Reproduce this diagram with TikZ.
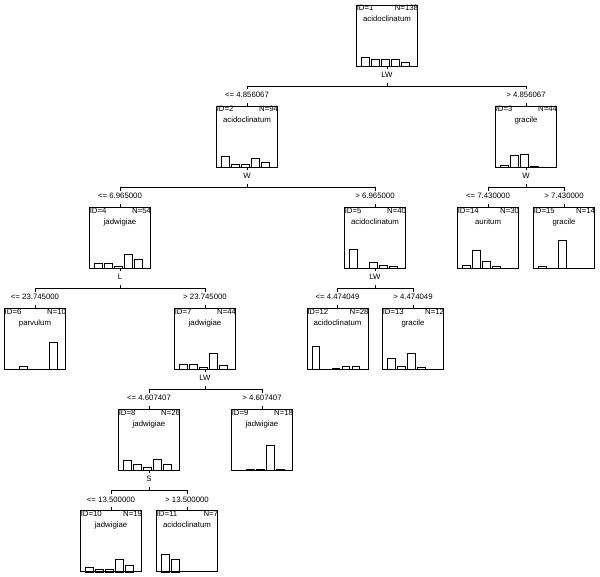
\documentclass[tikz,border=0pt]{standalone}
\usepackage{fontspec}
\setmainfont{Liberation Sans}
\usetikzlibrary{calc}
\tikzset{
  boxnode/.style={draw, line width=0.9pt, minimum width=61pt, minimum height=61pt, inner sep=0pt},
  lbl/.style={font=\fontsize{7.8}{8.5}\selectfont, inner sep=0pt},
  conn/.style={line width=0.8pt},
  histbar/.style={draw, line width=0.8pt},
}
\newcommand{\tnode}[7]{%
  \node[boxnode] (#1) at (#2, {5+101.1*#3+30.5}) {};
  \node[lbl, anchor=base west] (#1id) at ($(#1.north west)+(0.5,6.3)$) {ID=#4};
  \node[lbl, anchor=base east] (#1n) at ($(#1.north east)+(0.3,6.3)$) {N=#5};
  \node[lbl, anchor=base] (#1c) at ($(#1.north)+(0,17.3)$) {#6};
  \foreach \h [count=\i] in {#7} {
    \ifdim \h pt>0pt
      \draw[histbar] ($(#1.south west)+({5.5+10*(\i-1)},0)$) rectangle ++(7.5,-\h);
    \fi
  }
}
\newcommand{\tsplit}[6]{%
  \draw[conn] (#1.south) -- ++(0,2.5);
  \node[lbl, anchor=base] (#1var) at ($(#1.south)+(0,10.7)$) {#4};
  \coordinate (#1h) at ($(#1.south)+(0,19.5)$);
  \draw[conn] (#1h) -- ++(0,-3);
  \draw[conn] (#2.north |- #1h) -- (#3.north |- #1h);
  \draw[conn] (#2.north |- #1h) -- ++(0,3.5);
  \draw[conn] (#3.north |- #1h) -- ++(0,3.5);
  \node[lbl, anchor=base] (#2cond) at ($(#2.north)+(0,-8)$) {#5};
  \node[lbl, anchor=base] (#3cond) at ($(#3.north)+(0,-8)$) {#6};
  \draw[conn] (#2.north) -- ++(0,-3);
  \draw[conn] (#3.north) -- ++(0,-3);
}
\begin{document}
\begin{tikzpicture}[x=1pt,y=-1pt]
\useasboundingbox (0,0) rectangle (600,577);
\tnode{n1}{387}{0}{1}{138}{acidoclinatum}{9.3,6.7,6.7,6.7,4.3}
\tnode{n2}{247}{1}{2}{94}{acidoclinatum}{10.7,2.7,3.3,9,5}
\tnode{n3}{526}{1}{3}{44}{gracile}{2,11.7,12.7,1,0}
\tnode{n4}{120}{2}{4}{54}{jadwigiae}{5,5,2.7,14,9}
\tnode{n5}{375}{2}{5}{40}{acidoclinatum}{19.3,0.7,6,3.3,2.7}
\tnode{n14}{488}{2}{14}{30}{auritum}{3.3,18.3,7.3,2.3,0}
\tnode{n15}{564}{2}{15}{14}{gracile}{2.7,0,28.3,0,0}
\tnode{n6}{35}{3}{6}{10}{parvulum}{0,3.3,0,0,27.7}
\tnode{n7}{205}{3}{7}{44}{jadwigiae}{5.3,5.3,2.7,16.7,4.3}
\tnode{n12}{337.5}{3}{12}{28}{acidoclinatum}{23.3,0,1.7,3.7,3.7}
\tnode{n13}{413}{3}{13}{12}{gracile}{11,3.3,16,2.7,0}
\tnode{n8}{149}{4}{8}{26}{jadwigiae}{10,6,3.3,11,6}
\tnode{n9}{262}{4}{9}{18}{jadwigiae}{0,1.7,1.7,25,1.7}
\tnode{n10}{111}{5}{10}{19}{jadwigiae}{4.7,3,3,13,6.3}
\tnode{n11}{187}{5}{11}{7}{acidoclinatum}{17.3,13,0,0,0}
\tsplit{n1}{n2}{n3}{LW}{<= 4.856067}{> 4.856067}
\tsplit{n2}{n4}{n5}{W}{<= 6.965000}{> 6.965000}
\tsplit{n3}{n14}{n15}{W}{<= 7.430000}{> 7.430000}
\tsplit{n4}{n6}{n7}{L}{<= 23.745000}{> 23.745000}
\tsplit{n5}{n12}{n13}{LW}{<= 4.474049}{> 4.474049}
\tsplit{n7}{n8}{n9}{LW}{<= 4.607407}{> 4.607407}
\tsplit{n8}{n10}{n11}{S}{<= 13.500000}{> 13.500000}
\end{tikzpicture}
\end{document}
